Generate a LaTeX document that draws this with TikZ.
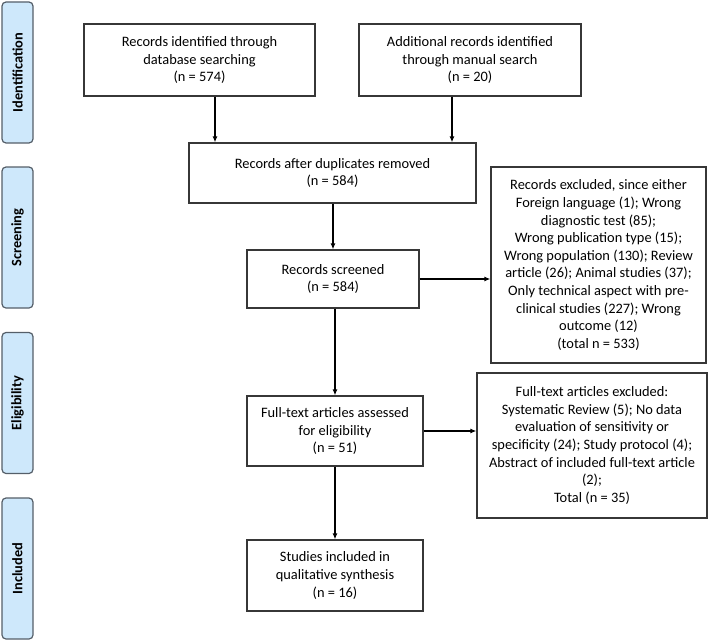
\documentclass[tikz,border=0pt]{standalone}
\usepackage{fontspec}
\setmainfont{Carlito}
\usetikzlibrary{arrows.meta}
\definecolor{stagefill}{RGB}{206,232,251}
\definecolor{stageline}{RGB}{85,95,105}
\definecolor{boxline}{RGB}{55,55,55}

\begin{document}
\begin{tikzpicture}[x=1pt, y=-1pt,
  box/.style={draw=boxline, line width=1.2pt, align=center, inner sep=2pt,
    font=\fontsize{14.4}{17.6}\selectfont},
  stage/.style={draw=stageline, fill=stagefill, line width=1.2pt, rounded corners=4pt,
    rotate=90, minimum width=141pt, minimum height=31pt, inner sep=0pt,
    font=\fontsize{14.4}{17.6}\selectfont\bfseries},
  arr/.style={draw=black, line width=1.2pt, -{Latex[length=6pt,width=5pt]}}]
\useasboundingbox (0,0) rectangle (709,642);

%Draw Stage Labels
\node[stage] (ident) at (17.5,72.5) {Identification};
\node[stage] (screen) at (17.5,237.5) {Screening};
\node[stage] (elig) at (17.5,403) {Eligibility};
\node[stage] (incl) at (17.5,568.5) {Included};

%Draw Identification Boxes
\node[box, minimum width=231pt, minimum height=72pt] (db) at (199.5,60)
  {Records identified through\\database searching\\(n = 574)};
\node[box, minimum width=222pt, minimum height=72pt] (manual) at (470,60)
  {Additional records identified\\through manual search\\(n = 20)};

%Draw Screening Boxes
\node[box, minimum width=287pt, minimum height=60pt] (dupl) at (332.5,173)
  {Records after duplicates removed\\(n = 584)};
\node[box, minimum width=172pt, minimum height=58pt] (scrnd) at (333,279)
  {Records screened\\(n = 584)};
\node[box, minimum width=215pt, minimum height=196pt] (excl) at (598.5,265)
  {Records excluded, since either\\Foreign language (1); Wrong\\diagnostic test (85);\\Wrong publication type (15);\\Wrong population (130); Review\\article (26); Animal studies (37);\\Only technical aspect with pre-\\clinical studies (227); Wrong\\outcome (12)\\(total n = 533)};

%Draw Eligibility Boxes
\node[box, minimum width=176pt, minimum height=70pt] (fulltxt) at (335,431)
  {Full-text articles assessed\\for eligibility\\(n = 51)};
\node[box, minimum width=230pt, minimum height=145pt] (fullexcl) at (592,445.5)
  {Full-text articles excluded:\\Systematic Review (5); No data\\evaluation of sensitivity or\\specificity (24); Study protocol (4);\\Abstract of included full-text article\\(2);\\Total (n = 35)};

%Draw Included Box
\node[box, minimum width=176pt, minimum height=71pt] (synth) at (335,575.5)
  {Studies included in\\qualitative synthesis\\(n = 16)};

%Draw Arrows
\draw[arr] (db.south -| 215,0) -- (dupl.north -| 215,0);
\draw[arr] (manual.south -| 452,0) -- (dupl.north -| 452,0);
\draw[arr] (dupl.south -| 333,0) -- (scrnd.north -| 333,0);
\draw[arr] (scrnd.east) -- (excl.west |- scrnd.east);
\draw[arr] (scrnd.south -| 335,0) -- (fulltxt.north -| 335,0);
\draw[arr] (fulltxt.east) -- (fullexcl.west |- fulltxt.east);
\draw[arr] (fulltxt.south) -- (synth.north);

\end{tikzpicture}
\end{document}
